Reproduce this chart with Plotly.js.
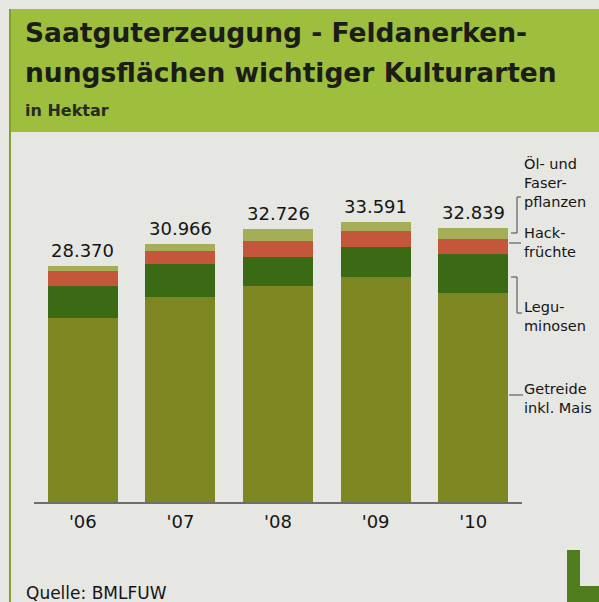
<!DOCTYPE html>
<html><head><meta charset="utf-8">
<script src="https://cdn.plot.ly/plotly-3.0.1.min.js"></script>
<style>html,body{margin:0;padding:0;background:#e6e6e2;} #chart{width:599px;height:602px;}</style>
</head><body><div id="chart"></div>
<script>
// ---- data (hectares) ----
const years = ["'06", "'07", "'08", "'09", "'10"];
const totalLabels = ["28.370", "30.966", "32.726", "33.591", "32.839"];
const totals = [28370, 30966, 32726, 33591, 32839];
const getreide = [22130, 24606, 25886, 26991, 25039];
const leguminosen = [3840, 3960, 3480, 3600, 4680];
const hackfruechte = [1800, 1560, 1920, 1920, 1800];
const oelFaser = [600, 840, 1440, 1080, 1320];
const seriesNames = ["Getreide inkl. Mais", "Leguminosen", "Hackfrüchte", "Öl- und Faserpflanzen"];
const seriesLabels = ["Getreide<br>inkl. Mais", "Legu-<br>minosen", "Hack-<br>früchte", "Öl- und<br>Faser-<br>pflanzen"];

// ---- layout helpers (pixel -> paper) ----
const W = 599, H = 602, ML = 34, MR = 77, MT = 150, MB = 100;
const PW = W - ML - MR, PH = H - MT - MB;
const px = x => (x - ML) / PW;
const py = y => (H - MB - y) / PH;
const FONT = "DejaVu Sans, Verdana, sans-serif";

const colors = ["#7d8620", "#3b6a14", "#c4563b", "#a5ae57"];
const seriesData = [getreide, leguminosen, hackfruechte, oelFaser];

const traces = seriesData.map((vals, i) => ({
  type: "bar", x: years, y: vals, name: seriesNames[i],
  marker: {color: colors[i], line: {width: 0}},
  showlegend: false, hoverinfo: "x+y+name"
}));

const annotations = [];
// header text
annotations.push({xref: "paper", yref: "paper", x: px(23), y: py(32.5), xanchor: "left", yanchor: "middle",
  text: "<b>Saatguterzeugung - Feldanerken-</b>", showarrow: false, font: {family: FONT, size: 26.5, color: "#1c1c18"}});
annotations.push({xref: "paper", yref: "paper", x: px(23), y: py(72.5), xanchor: "left", yanchor: "middle",
  text: "<b>nungsflächen wichtiger Kulturarten</b>", showarrow: false, font: {family: FONT, size: 26.5, color: "#1c1c18"}});
annotations.push({xref: "paper", yref: "paper", x: px(23), y: py(111), xanchor: "left", yanchor: "middle",
  text: "<b>in Hektar</b>", showarrow: false, font: {family: FONT, size: 16, color: "#2a2a20"}});
// totals above bars
years.forEach((yr, i) => annotations.push({x: yr, y: totals[i], xref: "x", yref: "y", yanchor: "bottom",
  yshift: 3, text: totalLabels[i], showarrow: false, font: {family: FONT, size: 18, color: "#151515"}}));
// series labels on the right
const labelCenters = [398.5, 316.5, 242.5, 182];
seriesLabels.forEach((t, i) => annotations.push({xref: "paper", yref: "paper", x: px(522), y: py(labelCenters[i]),
  xanchor: "left", yanchor: "middle", align: "left", text: t, showarrow: false,
  font: {family: FONT, size: 14.5, color: "#151515"}}));
// source
annotations.push({xref: "paper", yref: "paper", x: px(24), y: py(593), xanchor: "left", yanchor: "middle",
  text: "Quelle: BMLFUW", showarrow: false, font: {family: FONT, size: 17, color: "#151515"}});

const P = (pts) => "M" + pts.map(p => px(p[0]) + "," + py(p[1])).join(" L") ;
const shapes = [
  {type: "rect", xref: "paper", yref: "paper", x0: px(9), x1: px(600), y0: py(132), y1: py(9),
   fillcolor: "#9dbf3d", line: {width: 0}, layer: "below"},
  {type: "line", xref: "paper", yref: "paper", x0: px(10), x1: px(10), y0: py(132), y1: py(603),
   line: {color: "#86a02c", width: 2}},
  {type: "line", xref: "paper", yref: "paper", x0: px(10), x1: px(10), y0: py(9), y1: py(132),
   line: {color: "#86a02c", width: 2}},
  // leader lines
  {type: "path", xref: "paper", yref: "paper", path: P([[511,233],[517,233],[517,197],[521,197]]), line: {color: "#444", width: 1}},
  {type: "path", xref: "paper", yref: "paper", path: P([[509,243],[521,243]]), line: {color: "#444", width: 1}},
  {type: "path", xref: "paper", yref: "paper", path: P([[511,277],[517,277],[517,313],[522,313]]), line: {color: "#444", width: 1}},
  {type: "path", xref: "paper", yref: "paper", path: P([[509,395],[523,395]]), line: {color: "#444", width: 1}},
  // logo corner
  {type: "path", xref: "paper", yref: "paper", path: P([[567,550],[580,550],[580,586],[600,586],[600,603],[567,603]]) + " Z",
   fillcolor: "#4f7d1e", line: {width: 0}}
];

const layout = {
  width: W, height: H,
  margin: {l: ML, r: MR, t: MT, b: MB, pad: 0},
  paper_bgcolor: "#e6e6e2", plot_bgcolor: "#e6e6e2",
  barmode: "stack", bargap: 0.283,
  font: {family: FONT, color: "#151515"},
  xaxis: {type: "category", range: [-0.5, 4.5], showline: true, linecolor: "#6e6e6e", linewidth: 2,
    ticks: "", showgrid: false, zeroline: false, ticklabelstandoff: 2,
    tickfont: {family: FONT, size: 18, color: "#151515"}, fixedrange: true},
  yaxis: {range: [0, PH * 120], visible: false, fixedrange: true},
  annotations: annotations,
  shapes: shapes
};

Plotly.newPlot("chart", traces, layout, {displayModeBar: false, staticPlot: true});
</script>
</body></html>
